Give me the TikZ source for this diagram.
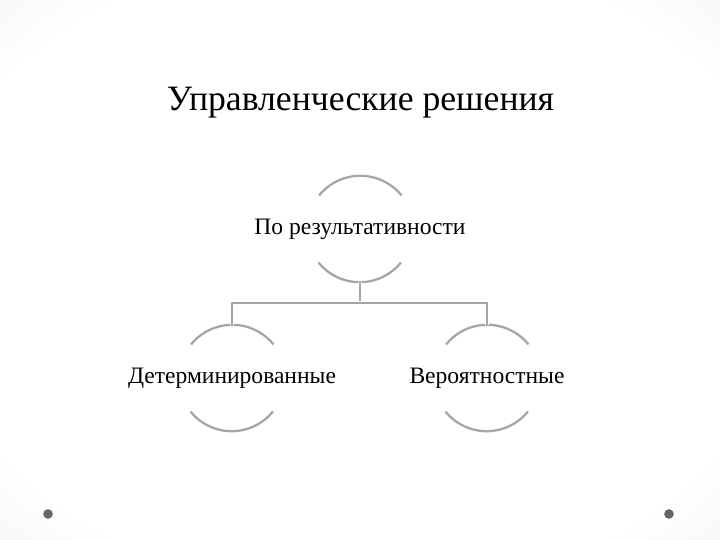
\documentclass[tikz,border=0pt]{standalone}
\usepackage{fontspec}
\setmainfont{Liberation Serif}
\pgfdeclareradialshading{slidebg}{\pgfpoint{0bp}{0bp}}{%
  color(0bp)=(white); color(30bp)=(white); color(50bp)=(black!10);
  color(71bp)=(black!22)}
\tikzset{
  arcline/.style={draw=black!35,line width=1.3pt},
  link/.style={draw=black!35,line width=1pt,
    preaction={draw=white,line width=2.6pt}},
  ring/.style={circle,inner sep=0pt,minimum size=2.12cm},
  label/.style={inner sep=1pt,font=\fontsize{13.4}{16}\selectfont},
}
\begin{document}
\begin{tikzpicture}
      \shade[shading=slidebg] (0,0) rectangle (14.4,10.8);%
      \useasboundingbox (0,0) rectangle (14.4,10.8);%

      \node[font=\fontsize{20.3}{24}\selectfont] (T) at (7.21,8.74)
      {Управленческие решения};%

      \node[ring] (R1) at (7.2,6.22) {};%
      \node[ring] (R2) at (4.64,3.24) {};%
      \node[ring] (R3) at (9.74,3.24) {};%

      \node[label] (L1) at (R1.center) {По результативности};%
      \node[label] (L2) at (R2.center) {Детерминированные};%
      \node[label] (L3) at (R3.center) {Вероятностные};%

      \coordinate (J) at (7.2,4.74);%

      \node[circle,fill=black!60,inner sep=0pt,minimum size=5.5pt] (D1) at
      (0.96,0.52) {};%
      \node[circle,fill=black!60,inner sep=0pt,minimum size=5.5pt] (D2) at
      (13.38,0.52) {};%

      \draw[arcline] (R1.39) arc (39:141:1.06);%
      \draw[arcline] (R1.219) arc (219:321:1.06);%
      \draw[arcline] (R2.39) arc (39:141:1.06);%
      \draw[arcline] (R2.219) arc (219:321:1.06);%
      \draw[arcline] (R3.39) arc (39:141:1.06);%
      \draw[arcline] (R3.219) arc (219:321:1.06);%

      \draw[link] (R1.south) -- (J);%
      \draw[link] (J) -| (R2.north);%
      \draw[link] (J) -| (R3.north);%
    \end{tikzpicture}
\end{document}
